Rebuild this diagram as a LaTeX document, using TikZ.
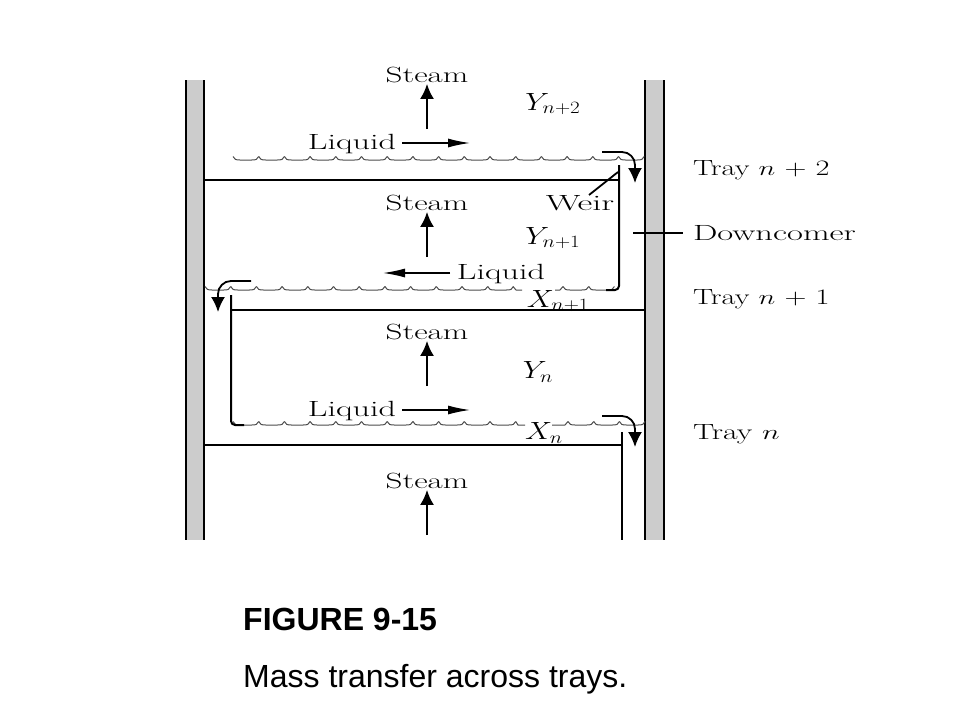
\documentclass[tikz,border=0pt]{standalone}
\usepackage{graphicx}
\usepackage{fontspec}
\usetikzlibrary{arrows.meta}
\newfontfamily\capfont{Liberation Sans}
\newcommand{\wallcolor}{black!20}
\newcommand{\wide}[2][1.5]{\scalebox{#1}[1]{#2}}
% one run of liquid surface: first cusp, last scallop number, level
\newcommand{\ripple}[3]{
\foreach \i in {0,...,#2} {
\pgfmathsetmacro{\x}{#1+25.7*\i}
\draw[surface] (\x,#3-3.5) .. controls (\x+1,#3-0.5) and (\x+3,#3) .. (\x+7,#3) -- (\x+18.7,#3) .. controls (\x+22.7,#3) and (\x+24.7,#3-0.5) .. (\x+25.7,#3-3.5);
}
}
\tikzset{
label/.style={font=\fontsize{22}{26}\selectfont, inner sep=0pt, outer sep=1pt},
symbol/.style={font=\fontsize{25}{30}\selectfont, inner sep=0pt, outer sep=1pt},
surface/.style={black!70, line width=1pt},
tray/.style={line width=2pt},
flow/.style={line width=2.2pt, -{Latex[length=15pt,width=14pt]}},
thin flow/.style={line width=1.4pt, -{Latex[length=22pt,width=9pt]}},
drop/.style={line width=1.8pt, rounded corners=13pt, -{Latex[length=15pt,width=14pt]}}
}

\begin{document}
\begin{tikzpicture}[x=1pt,y=-1pt]
\useasboundingbox (0,0) rectangle (960,720);
%walls
\fill[\wallcolor] (185,80) rectangle (205,540);
\fill[\wallcolor] (645,80) rectangle (665,540);
\draw[line width=2pt] (185.5,80) -- (185.5,540);
\draw[line width=2.6pt] (204,80) -- (204,540);
\draw[line width=2.6pt] (645,80) -- (645,540);
\draw[line width=2pt] (664,80) -- (664,540);
%steam
\node[label] (s1) at (427,75) {\wide{Steam}};
\node[label] (s2) at (427,203) {\wide{Steam}};
\node[label] (s3) at (427,332) {\wide{Steam}};
\node[label] (s4) at (427,481) {\wide{Steam}};
\coordinate (s1a) at (427,129);
\coordinate (s2a) at (427,257);
\coordinate (s3a) at (427,386);
\coordinate (s4a) at (427,535);
\draw[flow] (s1a) -- (s1);
\draw[flow] (s2a) -- (s2);
\draw[flow] (s3a) -- (s3);
\draw[flow] (s4a) -- (s4);
%liquid
\node[label] (l1) at (352,144) {\wide[1.55]{Liquid}};
\node[label] (l2) at (501,274) {\wide[1.55]{Liquid}};
\node[label] (l3) at (352,411) {\wide[1.55]{Liquid}};
\coordinate (l1a) at (470,143);
\coordinate (l2a) at (383,273);
\coordinate (l3a) at (470,410);
\coordinate (l1b) at (402,143);
\coordinate (l2b) at (450,273);
\coordinate (l3b) at (402,410);
\draw[thin flow] (l1b) -- (l1a);
\draw[thin flow] (l2b) -- (l2a);
\draw[thin flow] (l3b) -- (l3a);
%compositions
\node[symbol] (y2) at (553,104) {\wide[1.22]{$Y_{n+2}$}};
\node[symbol] (y1) at (553,238) {\wide[1.22]{$Y_{n+1}$}};
\node[symbol] (y0) at (538,372) {\wide[1.22]{$Y_{n}$}};
\node[symbol] (x1) at (558,301) {\wide[1.22]{$X_{n+1}$}};
\node[symbol] (x0) at (544,433) {\wide[1.22]{$X_{n}$}};
%surfaces
\ripple{233}{15}{160}
\ripple{205}{11}{290}
\ripple{563}{1}{290}
\ripple{233}{10}{425}
\ripple{568}{2}{425}
\draw[surface] (513,286.5) -- (516,290) -- (522,290);
\draw[surface] (555,290) -- (560,290) -- (563,286.5);
\draw[surface] (515.7,421.5) -- (518,425) -- (525,425);
\draw[surface] (552,425) -- (565,425) -- (568,421.5);
%trays and weirs
\coordinate (t1a) at (205,180);
\coordinate (t1b) at (620,180);
\coordinate (w1a) at (619,165);
\coordinate (w1b) at (619,290);
\coordinate (w1c) at (606,290);
\coordinate (t2a) at (231,310);
\coordinate (t2b) at (645,310);
\coordinate (w2a) at (231,295);
\coordinate (w2b) at (231,425);
\coordinate (w2c) at (244,425);
\coordinate (t3a) at (205,445);
\coordinate (t3b) at (622,445);
\coordinate (w3a) at (622,432);
\coordinate (w3b) at (622,540);
\draw[tray] (t1a) -- (t1b);
\draw[tray, rounded corners=4pt] (w1a) -- (w1b) -- (w1c);
\draw[tray] (t2a) -- (t2b);
\draw[tray, rounded corners=4pt] (w2a) -- (w2b) -- (w2c);
\draw[tray] (t3a) -- (t3b);
\draw[tray] (w3a) -- (w3b);
%overflow
\coordinate (d1a) at (602,152);
\coordinate (d1b) at (635,152);
\coordinate (d1c) at (635,183);
\coordinate (d2a) at (251,281);
\coordinate (d2b) at (218,281);
\coordinate (d2c) at (218,312);
\coordinate (d3a) at (602,416);
\coordinate (d3b) at (635,416);
\coordinate (d3c) at (635,447);
\draw[drop] (d1a) -- (d1b) -- (d1c);
\draw[drop] (d2a) -- (d2b) -- (d2c);
\draw[drop] (d3a) -- (d3b) -- (d3c);
%weir label
\node[label] (weir) at (580,203) {\wide[1.65]{Weir}};
\coordinate (weirtop) at (618,172);
\coordinate (weirfoot) at (589,195);
\draw[line width=1.8pt] (weirfoot) -- (weirtop);
%right side
\node[label, anchor=west] (n2) at (692,170) {\wide[1.38]{Tray $n$ + 2}};
\node[label, anchor=west] (dc) at (692,233) {\wide[1.57]{Downcomer}};
\node[label, anchor=west] (n1) at (692,299) {\wide[1.38]{Tray $n$ + 1}};
\node[label, anchor=west] (n0) at (692,434) {\wide[1.45]{Tray $n$}};
\coordinate (dca) at (633,233);
\coordinate (dcb) at (683,233);
\draw[line width=1.2pt] (dca) -- (dcb);
%caption
\node[anchor=base west, inner sep=0pt] (fig) at (243,630) {\capfont\bfseries\fontsize{32}{38}\selectfont FIGURE 9-15};
\node[anchor=base west, inner sep=0pt] (cap) at (243,687) {\capfont\fontsize{32}{38}\selectfont Mass transfer across trays.};
\end{tikzpicture}
\end{document}
